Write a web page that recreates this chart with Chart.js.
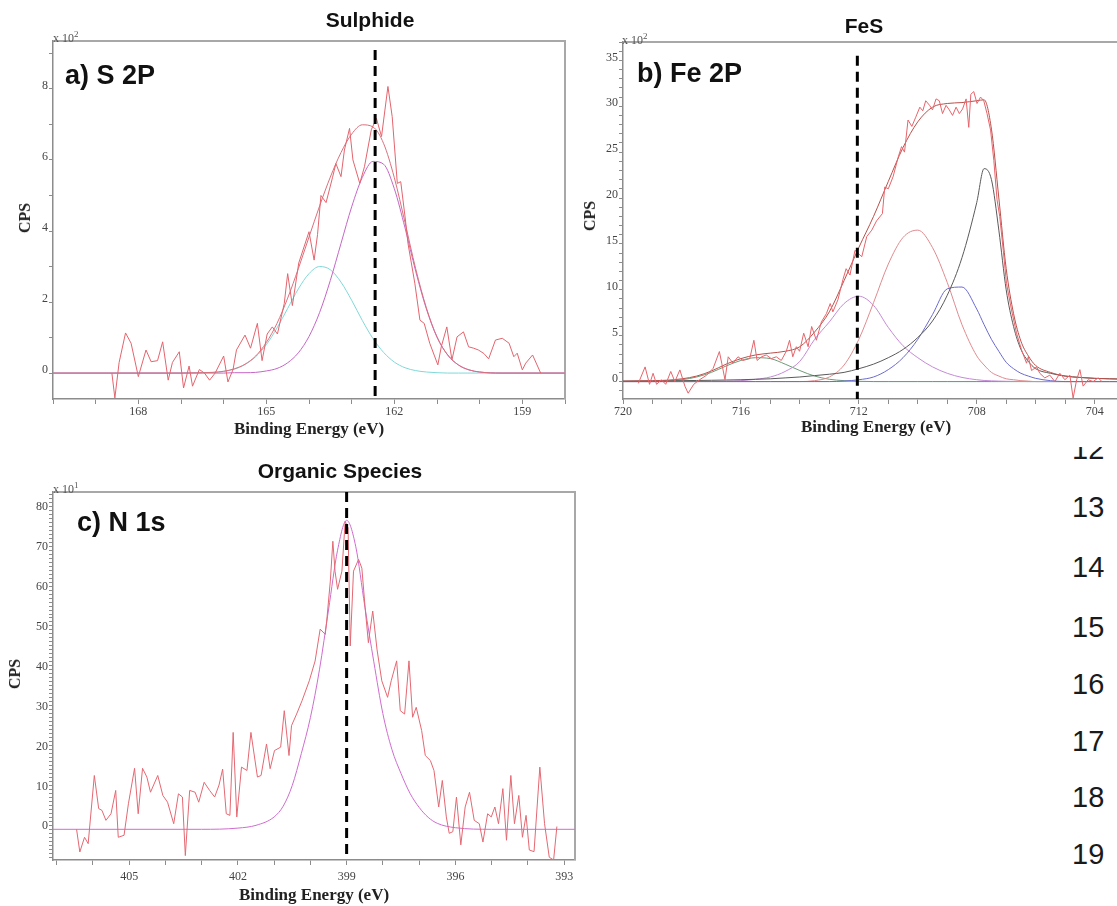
<!DOCTYPE html>
<html>
<head>
<meta charset="utf-8">
<script src="https://cdn.jsdelivr.net/npm/chart.js@4.4.1/dist/chart.umd.min.js"></script>
<style>
html, body { margin:0; padding:0; background:#fff; width:1117px; height:906px; overflow:hidden; }
.box { position:absolute; background:#fff; }
.box canvas { display:block; }
.txt { position:absolute; white-space:nowrap; line-height:1; z-index:3; }
.ttl { font-family:"Liberation Sans", Arial, sans-serif; font-weight:bold; font-size:21px; color:#111; transform:translateX(-50%); }
.lab { font-family:"Liberation Sans", Arial, sans-serif; font-weight:bold; font-size:27px; color:#111; }
.mult { font-family:"Liberation Serif", serif; font-size:12px; color:#555; }
.mult sup { font-size:9px; }
.cps { font-family:"Liberation Serif", serif; font-weight:bold; font-size:16px; color:#222; transform:translate(-50%,-50%) rotate(-90deg); }
.xt { font-family:"Liberation Serif", serif; font-weight:bold; font-size:17px; color:#222; transform:translate(-50%,-50%); }
.ln { font-family:"Liberation Sans", Arial, sans-serif; font-size:29px; color:#1a1a1a; z-index:1; }
</style>
</head>
<body>
<div class="txt ln" style="left:1072px;top:435px">12</div>
<div class="txt ln" style="left:1072px;top:493px">13</div>
<div class="txt ln" style="left:1072px;top:553px">14</div>
<div class="txt ln" style="left:1072px;top:613px">15</div>
<div class="txt ln" style="left:1072px;top:670px">16</div>
<div class="txt ln" style="left:1072px;top:727px">17</div>
<div class="txt ln" style="left:1072px;top:783px">18</div>
<div class="txt ln" style="left:1072px;top:840px">19</div>

<div class="box" style="left:0;top:0;width:575px;height:440px;z-index:1"><canvas id="ca" width="575" height="440"></canvas></div>
<div class="box" style="left:575px;top:0;width:565px;height:447px;z-index:2"><canvas id="cb" width="565" height="447"></canvas></div>
<div class="box" style="left:0;top:450px;width:590px;height:456px;z-index:1"><canvas id="cc" width="590" height="456"></canvas></div>

<div class="txt ttl" style="left:370px;top:9px">Sulphide</div>
<div class="txt ttl" style="left:864px;top:15px">FeS</div>
<div class="txt ttl" style="left:340px;top:460px">Organic Species</div>

<div class="txt lab" style="left:65px;top:62px">a) S 2P</div>
<div class="txt lab" style="left:637px;top:60px">b) Fe 2P</div>
<div class="txt lab" style="left:77px;top:509px">c) N 1s</div>

<div class="txt mult" style="left:53px;top:30px">x 10<sup>2</sup></div>
<div class="txt mult" style="left:622px;top:32px">x 10<sup>2</sup></div>
<div class="txt mult" style="left:53px;top:481px">x 10<sup>1</sup></div>

<div class="txt cps" style="left:25px;top:218px">CPS</div>
<div class="txt cps" style="left:590px;top:216px">CPS</div>
<div class="txt cps" style="left:15px;top:674px">CPS</div>

<div class="txt xt" style="left:309px;top:428px">Binding Energy (eV)</div>
<div class="txt xt" style="left:876px;top:426px">Binding Energy (eV)</div>
<div class="txt xt" style="left:314px;top:894px">Binding Energy (eV)</div>

<script>
// ---------- a) S 2P ----------
const aRawE = [168.62,168.55,168.45,168.3,168.17,168.0,167.82,167.7,167.55,167.43,167.3,167.2,167.04,166.94,166.81,166.73,166.57,166.45,166.33,166.2,166.0,165.9,165.78,165.7,165.5,165.37,165.21,165.1,164.98,164.86,164.74,164.58,164.5,164.39,164.24,164.0,163.88,163.8,163.72,163.6,163.45,163.37,163.25,163.17,163.05,162.97,162.81,162.7,162.54,162.42,162.3,162.15,162.05,161.93,161.85,161.74,161.68,161.52,161.4,161.3,161.17,160.98,160.9,160.77,160.65,160.53,160.38,160.26,160.14,160.03,159.9,159.79,159.63,159.47,159.31,159.2,159.12,159.0,158.92,158.76,158.57];
const aRaw = [0,-0.7,0.3,1.13,0.84,-0.1,0.65,0.32,0.35,0.88,-0.2,0.3,0.6,-0.42,0.2,-0.37,0.1,0,-0.2,0,0.48,-0.25,0.1,0.65,1.07,0.7,1.4,0.35,1.1,1.3,1.1,1.96,2.8,1.9,3.1,3.98,3.18,3.9,5.0,4.8,5.5,5.9,5.53,6.28,6.89,6.0,5.34,5.81,6.85,7.17,6.66,8.07,7.22,5.34,5.39,4.31,3.65,2.53,1.49,1.4,0.84,0.23,0.74,1.3,0.37,1.02,1.16,0.74,0.7,0.65,0.55,0.4,0.93,0.98,0.84,0.46,0.56,0.09,0.28,0.51,0];
const aFitE = [170,167,166.5,166.25,166,165.75,165.5,165.25,165,164.75,164.5,164.25,164,163.75,163.5,163.25,163,162.75,162.5,162.25,162,161.75,161.5,161.25,161,160.75,160.5,160.25,160,159.5,158];
const aCyan = [0,0,0.01,0.02,0.05,0.11,0.24,0.46,0.8,1.27,1.82,2.37,2.8,3.0,2.91,2.56,2.05,1.48,0.97,0.58,0.31,0.15,0.07,0.03,0.01,0,0,0,0,0,0];
const aPurple = [0,0,0,0,0,0.01,0.01,0.02,0.06,0.13,0.29,0.57,1.03,1.71,2.61,3.65,4.68,5.51,5.96,5.88,5.19,4.09,2.87,1.81,1.01,0.51,0.23,0.09,0.03,0,0];
const aEnv = [0,0,0.01,0.02,0.05,0.12,0.25,0.48,0.86,1.4,2.11,2.94,3.83,4.71,5.52,6.21,6.73,6.99,6.93,6.46,5.5,4.24,2.94,1.84,1.02,0.51,0.23,0.09,0.03,0,0];
const aMarkE = 162.45;
const aMarkY = [9.1, -0.73];
const aXMajor = [168,165,162,159];
const aYMajor = [0,2,4,6,8];

// ---------- b) Fe 2P ----------
const bRawE = [719.48,719.25,719.1,718.98,718.86,718.7,718.55,718.38,718.24,718.07,717.9,717.79,717.6,717.4,717.16,716.94,716.73,716.65,716.54,716.43,716.27,716.1,715.93,715.7,715.56,715.45,715.3,715.14,714.97,714.8,714.63,714.46,714.35,714.24,714.12,714.01,713.87,713.72,713.6,713.44,713.27,713.1,712.97,712.88,712.71,712.54,712.43,712.3,712.13,711.9,711.73,711.56,711.4,711.2,711.12,711.0,710.84,710.66,710.55,710.45,710.33,710.2,710.07,709.93,709.83,709.73,709.6,709.5,709.38,709.27,709.16,709.04,708.93,708.82,708.7,708.59,708.48,708.36,708.27,708.2,708.1,707.99,707.87,707.76,707.65,707.53,707.42,707.31,707.22,707.1,706.99,706.82,706.65,706.48,706.31,706.25,706.14,705.97,705.86,705.69,705.52,705.35,705.18,705.01,704.84,704.73,704.61,704.5,704.39,704.22,704.05,703.88,703.75];
const bRaw = [-0.2,1.6,-0.3,0.9,-0.3,0.2,-0.3,1.1,0,1.27,-0.5,-1.27,-0.3,0.2,0.7,1.45,3.27,2.0,0.2,2.7,2.0,2.7,2.3,2.5,4.5,2.3,2.7,2.9,2.5,2.7,2.3,3.3,4.5,2.7,3.8,3.3,5.27,3.8,6.0,4.5,6.5,7.4,8.5,7.6,8.9,11.1,12.3,11.6,14.3,13.6,15.8,16.5,17.5,18.3,21.2,21.0,22.3,24.5,25.6,25.0,28.5,27.8,28.8,29.9,29.5,30.6,30.1,29.6,30.8,30.6,29.2,30.1,29.6,29.0,29.9,29.2,29.7,30.8,27.7,31.3,31.6,30.3,31.0,30.6,29.2,27.4,24.1,19.8,18.0,14.3,10.7,7.8,5.3,3.45,2.0,2.7,1.2,1.6,0.9,0.4,0.7,0,0.9,0.2,0.7,-1.8,0.2,1.3,-0.5,0.2,0,0.4,0];
const bFitE = [720,719,718.5,718,717.5,717,716.5,716,715.5,715,714.5,714,713.5,713,712.5,712,711.5,711,710.5,710,709.5,709,708.5,708,707.75,707.5,707.25,707,706.75,706.5,706.25,706,705.5,705,704.5,704,703.5,702.8];
const bGreen = [0,0,0.05,0.2,0.5,1.0,1.7,2.3,2.6,2.5,1.9,1.2,0.6,0.25,0.1,0.03,0,0,0,0,0,0,0,0,0,0,0,0,0,0,0,0,0,0,0,0,0,0];
const bPurple = [0,0,0,0,0,0.02,0.05,0.1,0.25,0.5,1.1,2.2,4.6,6.5,8.5,9.3,8.3,5.9,3.9,2.6,1.6,0.9,0.45,0.2,0.12,0.08,0.05,0.03,0.02,0.01,0,0,0,0,0,0,0,0];
const bPink = [0,0,0,0,0,0,0,0,0,0,0,0,0.1,0.5,1.8,4.6,8.6,12.8,15.7,16.5,14.6,10.8,6.2,2.8,1.8,1.0,0.6,0.3,0.2,0.1,0.05,0,0,0,0,0,0,0];
const bBlue = [0,0,0,0,0,0,0,0,0,0,0,0,0,0,0.05,0.2,0.5,1.3,2.6,4.6,7.3,10.1,10.3,7.9,6.2,4.6,3.3,2.1,1.4,0.9,0.6,0.35,0.1,0,0,0,0,0];
const bBlack = [0.05,0.07,0.08,0.1,0.12,0.14,0.17,0.2,0.25,0.3,0.4,0.5,0.65,0.8,1.0,1.4,1.9,2.6,3.5,4.8,6.6,9.4,13.5,19.5,23.2,22.0,16.5,10.0,6.0,3.5,2.2,1.4,0.9,0.6,0.45,0.35,0.3,0.25];
const bEnv = [0.05,0.1,0.15,0.3,0.6,1.15,1.9,2.5,2.9,3.1,3.3,3.8,5.4,7.6,11.0,14.6,18.0,21.8,25.5,28.3,29.9,30.3,30.4,30.6,30.7,27.5,20.0,12.3,7.4,4.4,2.8,1.75,1.0,0.6,0.45,0.35,0.3,0.25];
const bBase = [0,0];
const bBaseE = [720,702.8];
const bMarkE = 712.05;
const bMarkY = [35.5, -1.9];
const bXMajor = [720,716,712,708,704];
const bYMajor = [0,5,10,15,20,25,30,35];

// ---------- c) N 1s ----------
const cRawE = [406.45,406.36,406.23,406.13,405.96,405.84,405.75,405.64,405.5,405.37,405.3,405.14,405.02,404.85,404.75,404.63,404.51,404.41,404.21,404.07,403.94,403.77,403.64,403.53,403.45,403.33,403.18,403.08,402.93,402.78,402.64,402.52,402.42,402.32,402.22,402.13,402.03,401.9,401.75,401.64,401.46,401.36,401.21,401.11,400.99,400.82,400.72,400.59,400.52,400.38,400.23,400.03,399.87,399.73,399.59,399.55,399.45,399.38,399.32,399.25,399.13,399.04,398.96,398.9,398.81,398.67,398.58,398.49,398.4,398.28,398.16,398.03,397.87,397.77,397.62,397.52,397.4,397.28,397.18,397.08,396.93,396.83,396.69,396.59,396.46,396.36,396.25,396.17,396.07,395.97,395.85,395.73,395.61,395.48,395.34,395.24,395.11,395.01,394.91,394.81,394.69,394.59,394.47,394.37,394.25,394.15,394.05,393.96,393.83,393.67,393.54,393.41,393.29,393.2];
const cRaw = [0,-5.7,-2,-3.6,13.5,5.2,4.75,2.25,3.9,9.75,-2,-1.5,6.4,15.3,3.9,15.3,13.1,9.3,13.5,8.5,6.8,1.4,8.9,8.1,-6.6,9.75,9.3,6.8,11.8,9.75,8.1,11.1,15.1,3.9,3.5,24.3,3.1,15.6,14.75,24.3,13.1,13.5,21.4,15.2,19.75,20.6,29.75,18.5,26,28.9,32.25,37.25,42.2,50.2,48.9,52.2,62.25,72.25,64.75,60.2,64.75,77.25,75.6,46,64.75,67.7,65.5,55.6,46.8,54.75,45,37.25,33.1,37.25,42.25,29.75,28.9,42.25,28.1,30.6,24.75,18.5,17.25,14.75,5.6,12.25,3.1,-1,-0.6,8.1,-3.9,5.6,9.3,2.25,1.4,-3.2,3.9,3.1,5.6,1.4,10.2,-2.75,13.5,1.4,8.5,-2,3.5,-5.2,-5.6,15.6,1.4,-7,-7.7,0.7];
const cFitE = [407.1,403,402,401.5,401,400.75,400.5,400.25,400,399.75,399.5,399.25,399,398.75,398.5,398.25,398,397.75,397.5,397.25,397,396.75,396.5,396,395,392.7];
const cFit = [0,0,0.3,1.0,3.1,5.8,11,19,28,40,55,70,77.5,71,56,42,29,20,14,9,5.5,3,1.5,0.4,0,0];
const cMarkE = 399.0;
const cMarkY = [84.6, -7.7];
const cXMajor = [405,402,399,396,393];
const cYMajor = [0,10,20,30,40,50,60,70,80];

const pts = (xs, ys) => xs.map((x, i) => ({ x: x, y: ys[i] }));
const raw = (xs, ys, color) => ({ data: pts(xs, ys), borderColor: color, borderWidth: 1, tension: 0, pointRadius: 0 });
const fit = (xs, ys, color) => ({ data: pts(xs, ys), borderColor: color, borderWidth: 1, cubicInterpolationMode: 'monotone', pointRadius: 0 });
const mark = (e, ys) => ({ data: pts([e, e], ys), borderColor: '#000', borderWidth: 3, borderDash: [10, 6], pointRadius: 0 });

const framePlugin = {
  id: 'frame',
  beforeDatasetsDraw(chart, args, opts) {
    const ctx = chart.ctx, a = chart.chartArea;
    ctx.save();
    ctx.strokeStyle = '#a8a8a8';
    ctx.lineWidth = 2;
    ctx.beginPath();
    ctx.moveTo(a.left, a.top);
    ctx.lineTo(opts.right ? a.right : chart.width, a.top);
    if (opts.right) ctx.lineTo(a.right, a.bottom);
    ctx.stroke();
    ctx.restore();
  }
};

const tickFont = { family: 'Liberation Serif', size: 12 };

function makeChart(id, datasets, o) {
  return new Chart(document.getElementById(id), {
    type: 'line',
    data: { datasets: datasets },
    options: {
      responsive: false,
      animation: false,
      events: [],
      layout: { padding: { top: o.padTop, right: o.padRight, left: 0, bottom: 0 } },
      plugins: { legend: { display: false }, tooltip: { enabled: false }, frame: { right: o.frameRight } },
      scales: {
        x: {
          type: 'linear', reverse: true, min: o.xMin, max: o.xMax,
          afterFit: s => { s.height = o.xAxisH; },
          border: { color: '#8c8c8c', width: 1.5 },
          grid: { drawOnChartArea: false, tickLength: 5, tickColor: '#8c8c8c', tickWidth: 1 },
          ticks: { stepSize: 1, includeBounds: false, autoSkip: false, maxRotation: 0, padding: o.xPad,
                   color: '#444', font: tickFont,
                   callback: v => o.xMajor.includes(v) ? String(v) : '' }
        },
        y: {
          type: 'linear', min: o.yMin, max: o.yMax,
          afterFit: s => { s.width = o.yAxisW; },
          border: { color: '#8c8c8c', width: 1.5 },
          grid: { drawOnChartArea: false, tickLength: 4, tickColor: '#8c8c8c', tickWidth: 1 },
          ticks: { stepSize: 1, includeBounds: false, autoSkip: false, padding: 1, labelOffset: -3,
                   color: '#444', font: tickFont,
                   callback: v => o.yMajor.includes(v) ? String(v) : '' }
        }
      }
    },
    plugins: [framePlugin]
  });
}

makeChart('ca', [
  mark(aMarkE, aMarkY),
  raw(aRawE, aRaw, '#e4646d'),
  fit(aFitE, aEnv, '#d9707c'),
  fit(aFitE, aPurple, '#c466c6'),
  fit(aFitE, aCyan, '#7fd8d8')
], { padTop: 41, padRight: 10, xAxisH: 41, yAxisW: 53, xPad: 1, frameRight: true,
     xMin: 158, xMax: 170, yMin: -0.73, yMax: 9.35, xMajor: aXMajor, yMajor: aYMajor });

makeChart('cb', [
  mark(bMarkE, bMarkY),
  raw(bRawE, bRaw, '#e6646b'),
  fit(bFitE, bEnv, '#b9504a'),
  fit(bFitE, bBlack, '#5a5a5a'),
  fit(bFitE, bBlue, '#6b6bd0'),
  fit(bFitE, bPink, '#e08a8e'),
  fit(bFitE, bPurple, '#c48ad6'),
  fit(bFitE, bGreen, '#6f9a78'),
  fit(bBaseE, bBase, '#8ad8e0')
], { padTop: 42, padRight: 10, xAxisH: 48, yAxisW: 48, xPad: 1, frameRight: false,
     xMin: 702.8, xMax: 720, yMin: -1.9, yMax: 37, xMajor: bXMajor, yMajor: bYMajor });

makeChart('cc', [
  mark(cMarkE, cMarkY),
  raw(cRawE, cRaw, '#e46872'),
  fit(cFitE, cFit, '#cf6ccf')
], { padTop: 42, padRight: 15, xAxisH: 46, yAxisW: 53, xPad: 5, frameRight: true,
     xMin: 392.7, xMax: 407.1, yMin: -7.7, yMax: 84.6, xMajor: cXMajor, yMajor: cYMajor });
</script>
</body>
</html>
